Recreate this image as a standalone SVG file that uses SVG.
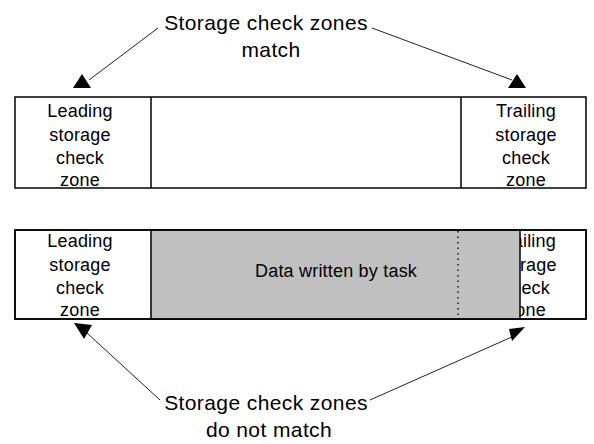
<svg xmlns="http://www.w3.org/2000/svg" width="594" height="444" viewBox="0 0 594 444">
<style>
text{font-family:"Liberation Sans",Arial,sans-serif;fill:#000}
.t{font-size:21px;letter-spacing:0.4px}
.c{font-size:18px;letter-spacing:0.2px}
.box{fill:#fff;stroke:#000;stroke-width:1.5}
.ln{stroke:#000;stroke-width:1.5;fill:none}
.conn{stroke:#222;stroke-width:1;fill:none}
.head{fill:#000}
</style>
<rect width="594" height="444" fill="#fff"/>
<g id="label-match">
<text class="t" x="266" y="30" text-anchor="middle">Storage check zones</text>
<text class="t" x="271" y="57" text-anchor="middle">match</text>
</g>
<g id="label-nomatch">
<text class="t" x="266" y="410" text-anchor="middle">Storage check zones</text>
<text class="t" x="269" y="437" text-anchor="middle">do not match</text>
</g>
<g id="box-match">
<rect class="box" x="15" y="97" width="571" height="91"/>
<line class="ln" x1="151" y1="97" x2="151" y2="188"/>
<line class="ln" x1="461" y1="97" x2="461" y2="188"/>
<g text-anchor="middle" class="c">
<text x="80" y="117">Leading</text>
<text x="80" y="141">storage</text>
<text x="80" y="164">check</text>
<text x="80" y="186">zone</text>
<text x="526" y="117">Trailing</text>
<text x="526" y="141">storage</text>
<text x="526" y="164">check</text>
<text x="526" y="186">zone</text>
</g>
</g>
<g id="box-nomatch">
<rect class="box" x="15" y="230" width="571" height="89"/>
<g text-anchor="middle" class="c">
<text x="80" y="247">Leading</text>
<text x="80" y="271">storage</text>
<text x="80" y="294">check</text>
<text x="80" y="316">zone</text>
<text x="526" y="247">Trailing</text>
<text x="526" y="271">storage</text>
<text x="526" y="294">check</text>
<text x="526" y="316">zone</text>
</g>
<rect x="151" y="230" width="369" height="89" fill="#c0c0c0" stroke="#000" stroke-width="1.5"/>
<rect x="15" y="230" width="571" height="89" fill="none" stroke="#000" stroke-width="1.5"/>
<line x1="458" y1="231" x2="458" y2="318" stroke="#000" stroke-width="1.3" stroke-dasharray="1.5 4"/>
<text class="c" x="336" y="277" text-anchor="middle">Data written by task</text>
</g>
<g id="connectors">
<line class="conn" x1="158" y1="28" x2="89" y2="80"/>
<polygon class="head" points="82,74 73,88 91,88"/>
<line class="conn" x1="372" y1="28" x2="512" y2="80"/>
<polygon class="head" points="517,74 508,88 526,88"/>
<line class="conn" x1="160" y1="400" x2="87" y2="333"/>
<polygon class="head" points="74,323 92,325 84,339"/>
<line class="conn" x1="370" y1="400" x2="514" y2="336"/>
<polygon class="head" points="509,329 525,327 512,341"/>
</g>
</svg>
